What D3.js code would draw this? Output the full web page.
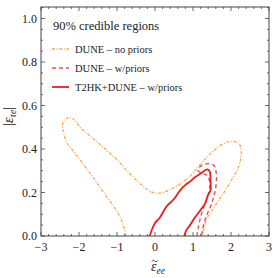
<!DOCTYPE html>
<html>
<head>
<meta charset="utf-8">
<script src="https://cdn.jsdelivr.net/npm/d3@7"></script>
<style>
  body { margin: 0; background: #fff; }
  text { font-family: "Liberation Serif", "DejaVu Serif", serif; fill: #222; }
</style>
</head>
<body>
<div id="chart"></div>
<script>
// ---- data ----
var xTicks = [-3, -2, -1, 0, 1, 2, 3];
var yTicks = [0.0, 0.2, 0.4, 0.6, 0.8, 1.0];

// DUNE - no priors (open contour, both ends on the axis)
var duneNoPriors = [
  [-0.77, 0], [-0.8, 0.03], [-0.88, 0.07], [-0.97, 0.105], [-1.1, 0.14], [-1.27, 0.18],
  [-1.45, 0.225], [-1.63, 0.27], [-1.8, 0.31], [-1.97, 0.35], [-2.15, 0.39], [-2.32, 0.43],
  [-2.4, 0.47], [-2.43, 0.51], [-2.38, 0.535], [-2.24, 0.545], [-2.1, 0.53], [-1.97, 0.5],
  [-1.71, 0.46], [-1.37, 0.41], [-1.0, 0.35], [-0.68, 0.29], [-0.32, 0.23], [-0.05, 0.2],
  [0.21, 0.2], [0.57, 0.23], [0.92, 0.275], [1.1, 0.31], [1.3, 0.35], [1.5, 0.385],
  [1.75, 0.42], [2.0, 0.435], [2.18, 0.43], [2.26, 0.405], [2.26, 0.36], [2.18, 0.31],
  [2.02, 0.26], [1.85, 0.21], [1.66, 0.16], [1.49, 0.115], [1.38, 0.085], [1.31, 0.05],
  [1.27, 0.02], [1.25, 0]
];

// DUNE - w/priors
var duneWithPriors = [
  [1.1, 0], [1.14, 0.04], [1.22, 0.1], [1.34, 0.16], [1.42, 0.2], [1.44, 0.25],
  [1.36, 0.28], [1.22, 0.29], [1.13, 0.3], [1.18, 0.318], [1.3, 0.33], [1.45, 0.332],
  [1.56, 0.322], [1.61, 0.29], [1.61, 0.24], [1.56, 0.19], [1.47, 0.14], [1.36, 0.095],
  [1.28, 0.05], [1.24, 0.02], [1.23, 0]
];

// T2HK+DUNE - w/priors
var t2hkDune = [
  [-0.14, 0], [-0.08, 0.03], [0.0, 0.06], [0.13, 0.085], [0.3, 0.135], [0.5, 0.17],
  [0.66, 0.21], [0.8, 0.235], [0.92, 0.25], [1.05, 0.27], [1.18, 0.285], [1.3, 0.3],
  [1.38, 0.306], [1.44, 0.296], [1.46, 0.255], [1.46, 0.21], [1.4, 0.19], [1.32, 0.15],
  [1.2, 0.12], [1.05, 0.085], [0.92, 0.05], [0.82, 0.025], [0.77, 0]
];

var series = [
  { name: "DUNE \u2013 no priors", pts: duneNoPriors, color: "#f9a64e", width: 1.3, dash: "3,1.6,1,1.6" },
  { name: "DUNE \u2013 w/priors", pts: duneWithPriors, color: "#ee5050", width: 1.4, dash: "4,3" },
  { name: "T2HK+DUNE \u2013 w/priors", pts: t2hkDune, color: "#ee1c1c", width: 1.8, dash: null }
];

// ---- layout ----
var W = 278, H = 278;
var margin = { left: 41, right: 9, top: 7, bottom: 42 };

var svg = d3.select("#chart").append("svg")
  .attr("width", W).attr("height", H);

var x = d3.scaleLinear().domain([-3, 3]).range([margin.left, W - margin.right]);
var y = d3.scaleLinear().domain([0, 1.053]).range([H - margin.bottom, margin.top]);

var plot = svg.append("g");

// clip to the frame
svg.append("clipPath").attr("id", "clip")
  .append("rect")
  .attr("x", x(-3)).attr("y", y(1.053))
  .attr("width", x(3) - x(-3)).attr("height", y(0) - y(1.053));

var line = d3.line()
  .x(function(d) { return x(d[0]); })
  .y(function(d) { return y(d[1]); })
  .curve(d3.curveCatmullRom.alpha(0.5));

plot.append("g").attr("clip-path", "url(#clip)")
  .selectAll("path")
  .data(series)
  .enter().append("path")
  .attr("d", function(d) { return line(d.pts); })
  .attr("fill", "none")
  .attr("stroke", function(d) { return d.color; })
  .attr("stroke-width", function(d) { return d.width; })
  .attr("stroke-dasharray", function(d) { return d.dash; })
  .attr("stroke-linejoin", "round");

// ticks, inward, all four sides
var axisColor = "#444";
var xMinor = d3.range(-3, 3.001, 0.2);
var yMinor = d3.range(0, 1.051, 0.05);

function isMajor(v, step) { return Math.abs(v / step - Math.round(v / step)) < 1e-6; }

var tickG = svg.append("g").attr("stroke", axisColor).attr("stroke-width", 0.8);
xMinor.forEach(function(v) {
  var len = isMajor(v, 1) ? 4 : 2;
  tickG.append("line").attr("x1", x(v)).attr("x2", x(v))
    .attr("y1", y(0)).attr("y2", y(0) - len);
  tickG.append("line").attr("x1", x(v)).attr("x2", x(v))
    .attr("y1", y(1.053)).attr("y2", y(1.053) + len);
});
yMinor.forEach(function(v) {
  var len = isMajor(v, 0.2) ? 4 : 2;
  tickG.append("line").attr("y1", y(v)).attr("y2", y(v))
    .attr("x1", x(-3)).attr("x2", x(-3) + len);
  tickG.append("line").attr("y1", y(v)).attr("y2", y(v))
    .attr("x1", x(3)).attr("x2", x(3) - len);
});

// frame
svg.append("rect")
  .attr("x", x(-3)).attr("y", y(1.053))
  .attr("width", x(3) - x(-3)).attr("height", y(0) - y(1.053))
  .attr("fill", "none").attr("stroke", axisColor).attr("stroke-width", 1);

// tick labels
svg.append("g").selectAll("text")
  .data(xTicks).enter().append("text")
  .attr("x", function(d) { return x(d); })
  .attr("y", y(0) + 15)
  .attr("text-anchor", "middle")
  .attr("font-size", 12)
  .text(function(d) { return d < 0 ? "\u2212" + Math.abs(d) : d; });

svg.append("g").selectAll("text")
  .data(yTicks).enter().append("text")
  .attr("x", x(-3) - 4)
  .attr("y", function(d) { return y(d) + 4; })
  .attr("text-anchor", "end")
  .attr("font-size", 12)
  .text(function(d) { return d3.format(".1f")(d); });

// axis labels
var xl = svg.append("text")
  .attr("x", x(0) - 4).attr("y", 271)
  .attr("font-size", 14)
  .attr("font-style", "italic");
xl.append("tspan").text("\u03b5");
xl.append("tspan").attr("font-size", 9.5).attr("dy", 3).text("ee");

// tilde accent over the epsilon, drawn as a small wave
var tx = x(0) - 0.3, ty = 261;
svg.append("path")
  .attr("d", "M" + (tx - 2.8) + "," + (ty + 0.6) +
    " C" + (tx - 1.8) + "," + (ty - 1.4) + " " + (tx - 0.6) + "," + (ty - 0.6) + " " + tx + "," + ty +
    " S" + (tx + 1.8) + "," + (ty + 1.4) + " " + (tx + 2.8) + "," + (ty - 0.6))
  .attr("fill", "none").attr("stroke", "#222").attr("stroke-width", 0.8);

var yl = svg.append("text")
  .attr("transform", "translate(13," + y(0.55) + ") rotate(-90)")
  .attr("text-anchor", "middle")
  .attr("font-size", 14)
  .attr("font-style", "italic");
yl.append("tspan").attr("font-style", "normal").text("|");
yl.append("tspan").text("\u03b5");
yl.append("tspan").attr("font-size", 9.5).attr("dy", 3).text("\u03c4e");
yl.append("tspan").attr("font-style", "normal").attr("dy", -3).text("|");

// legend
svg.append("text")
  .attr("x", 53).attr("y", 30)
  .attr("font-size", 12.5)
  .text("90% credible regions");

var leg = svg.append("g").selectAll("g")
  .data(series).enter().append("g")
  .attr("transform", function(d, i) { return "translate(52," + (49 + i * 19) + ")"; });

leg.append("line")
  .attr("x1", 0).attr("x2", 17).attr("y1", 0).attr("y2", 0)
  .attr("stroke", function(d) { return d.color; })
  .attr("stroke-width", function(d) { return d.width; })
  .attr("stroke-dasharray", function(d) { return d.dash; });

leg.append("text")
  .attr("x", 23).attr("y", 3.5)
  .attr("font-size", 10.5)
  .text(function(d) { return d.name; });
</script>
</body>
</html>
